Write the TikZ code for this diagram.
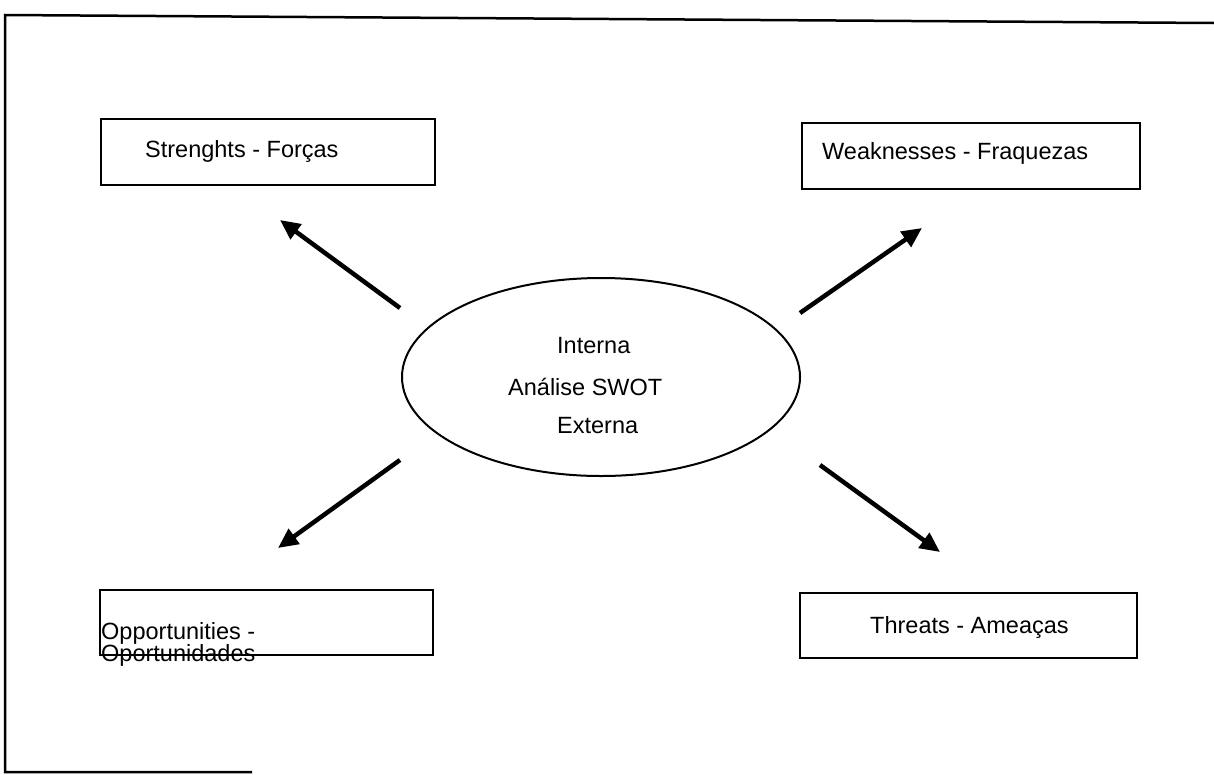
\documentclass[tikz,border=0pt]{standalone}
\usepackage{fontspec}
\setmainfont{Liberation Sans}
\usetikzlibrary{arrows.meta,shapes.geometric}
\tikzset{
  boxnode/.style={draw=black, line width=2pt, rectangle, inner sep=0pt},
  txt/.style={inner sep=0pt, anchor=base west, font=\fontsize{23.5}{19}\selectfont},
  framel/.style={draw=black, line width=2.5pt},
  arr/.style={draw=black, line width=4.5pt, -{Triangle[length=20pt,width=18pt]}}
}
\begin{document}
\begin{tikzpicture}[x=1pt,y=-1pt]
\useasboundingbox (0,0) rectangle (1214,774);
% page frame
\coordinate (f1) at (1214,23);
\coordinate (f2) at (5,15);
\coordinate (f3) at (5,772);
\coordinate (f4) at (252,772);
\draw[framel] (f1) -- (f2) -- (f3) -- (f4);
% boxes
\node[boxnode, minimum width=334pt, minimum height=66pt] (S) at (268,152) {};
\node[boxnode, minimum width=338pt, minimum height=66pt] (W) at (971,156) {};
\node[boxnode, minimum width=333pt, minimum height=65pt] (O) at (266.5,622.5) {};
\node[boxnode, minimum width=337pt, minimum height=65pt] (T) at (968.5,625.5) {};
% box texts
\node[txt] (St) at (145,157) {Strenghts - Forças};
\node[txt] (Wt) at (822,159) {Weaknesses - Fraquezas};
\node[txt] (Tt) at (870,633) {Threats - Ameaças};
\node[txt, anchor=north west, align=left] (Ot) at (101,622) {Opportunities -\\[-1pt]Oportunidades};
% ellipse
\node[draw=black, line width=2pt, ellipse, minimum width=398pt, minimum height=198pt, inner sep=0pt] (E) at (601,377) {};
\node[txt] (E1) at (557,353) {Interna};
\node[txt] (E2) at (508,395) {Análise SWOT};
\node[txt] (E3) at (557,433) {Externa};
% arrows
\coordinate (a1) at (400,308); \coordinate (b1) at (280,220);
\coordinate (a2) at (800,313); \coordinate (b2) at (922,228);
\coordinate (a3) at (400,460); \coordinate (b3) at (278,548);
\coordinate (a4) at (820,465); \coordinate (b4) at (940,552);
\draw[arr] (a1) -- (b1);
\draw[arr] (a2) -- (b2);
\draw[arr] (a3) -- (b3);
\draw[arr] (a4) -- (b4);
\end{tikzpicture}
\end{document}
